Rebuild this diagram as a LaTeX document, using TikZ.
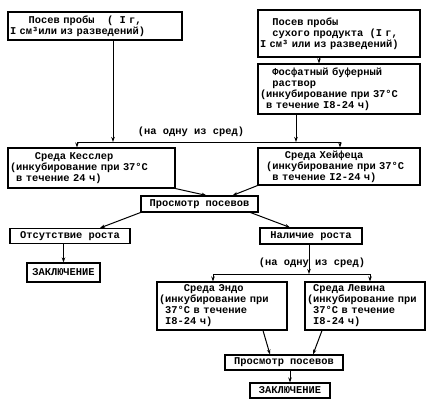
\documentclass[tikz,border=0pt]{standalone}
\usepackage{fontspec}
\newfontfamily\tmono{Liberation Mono}
\usetikzlibrary{arrows.meta}
\newcommand\ind[1]{\hspace*{#1\dimexpr 6.24pt\relax}}

\begin{document}
\begin{tikzpicture}[x=1pt, y=-1pt,
    box/.style={draw, line width=1.1pt, inner sep=2pt, align=left,
      font=\tmono\bfseries\fontsize{10.4}{11}\selectfont},
    line/.style={line width=1pt},
    arr/.style={line width=1pt, -{Stealth[length=5pt, width=3.5pt]}},
    note/.style={font=\tmono\bfseries\fontsize{10.4}{11}\selectfont, inner sep=0pt}]
        \useasboundingbox (0,0) rectangle (429,410);

        % top row
        \node[box, text width=170pt, minimum height=28pt] (probe) at (95,26)
            {\ind{3}Посев пробы\ind{2}(\ind{1}I г,\\ I см³или из разведений)};
        \node[box, text width=158pt, minimum height=47pt] (dry) at (339,33.5)
            {\ind{2}Посев пробы\\ \ind{2}сухого продукта\ind{1}(I г,\\ I см³ или из разведений)};
        \node[box, text width=158pt, minimum height=50pt] (buffer) at (339,89)
            {\ind{2}Фосфатный буферный\\ \ind{2}раствор\\ (инкубирование при 37°C\\ \ind{1}в течение I8-24 ч)};

        % media
        \node[box, text width=163pt, minimum height=40pt] (kessler) at (91.5,168)
            {\ind{4}Среда Кесслер\\ (инкубирование при 37°C\\ \ind{1}в течение 24 ч)};
        \node[box, text width=158pt, minimum height=37pt] (heif) at (339,166.5)
            {\ind{4}Среда Хейфеца\\ \ind{1}(инкубирование при 37°C\\ \ind{2}в течение I2-24 ч)};

        \node[box, align=center, minimum width=117pt, minimum height=16pt] (view1) at (199.5,204) {Просмотр посевов};
        \node[box, align=center, minimum width=120pt, minimum height=15pt] (nogrowth) at (70,236) {Отсутствие роста};
        \node[box, align=center, minimum width=73pt, minimum height=19pt] (concl1) at (63.5,272.5) {ЗАКЛЮЧЕНИЕ};
        \node[box, align=center, minimum width=102pt, minimum height=16pt] (growth) at (311,236) {Наличие роста};

        \node[box, text width=126pt, minimum height=48pt] (endo) at (222,306)
            {\ind{4}Среда Эндо\\ (инкубирование при\\ \ind{1}37°C в течение\\ \ind{1}I8-24 ч)};
        \node[box, text width=116pt, minimum height=48pt] (levin) at (365,306)
            {\ind{1}Среда Левина\\ (инкубирование при\\ \ind{1}37°C в течение\\ \ind{1}I8-24 ч)};

        \node[box, align=center, minimum width=118pt, minimum height=15pt] (view2) at (284,362.5) {Просмотр посевов};
        \node[box, align=center, minimum width=80pt, minimum height=15pt] (concl2) at (290,390.5) {ЗАКЛЮЧЕНИЕ};

        \node[note] (choice1) at (191,132) {(на одну из сред)};
        \node[note] (choice2) at (312,263) {(на одну из сред)};

        % junctions
        \coordinate (j1l) at (77,142);
        \coordinate (j1a) at (113,142);
        \coordinate (j1b) at (296,142);
        \coordinate (j1r) at (340,142);
        \coordinate (j2l) at (213,274);
        \coordinate (j2m) at (309,274);
        \coordinate (j2r) at (370,274);

        \draw[arr] ([xshift=-20pt]dry.south) -- ([xshift=-20pt]buffer.north);
        \draw[arr] (probe.south -| j1a) -- (j1a);
        \draw[arr] (buffer.south -| j1b) -- (j1b);
        \draw[line] (j1l) -- (j1r);
        \draw[arr] (j1l) -- (j1l |- kessler.north);
        \draw[arr] (j1r) -- (j1r |- heif.north);

        \draw[arr] (kessler.south east) -- ([xshift=7pt]view1.north);
        \draw[arr] (heif.south west) -- ([xshift=33pt]view1.north);
        \draw[arr] (view1.south west) -- ([xshift=30pt]nogrowth.north);
        \draw[arr] (nogrowth.south -| concl1.north) -- (concl1.north);
        \draw[arr] ([xshift=-8pt]view1.south east) -- ([xshift=-21pt]growth.north);

        \draw[arr] (growth.south -| j2m) -- (j2m);
        \draw[line] (j2l) -- (j2r);
        \draw[arr] (j2l) -- (j2l |- endo.north);
        \draw[arr] (j2r) -- (j2r |- levin.north);

        \draw[arr] ([xshift=41pt]endo.south) -- ([xshift=-14pt]view2.north);
        \draw[arr] ([xshift=-43pt]levin.south) -- ([xshift=29pt]view2.north);
        \draw[arr] (view2.south -| concl2.north) -- (concl2.north);
\end{tikzpicture}
\end{document}
